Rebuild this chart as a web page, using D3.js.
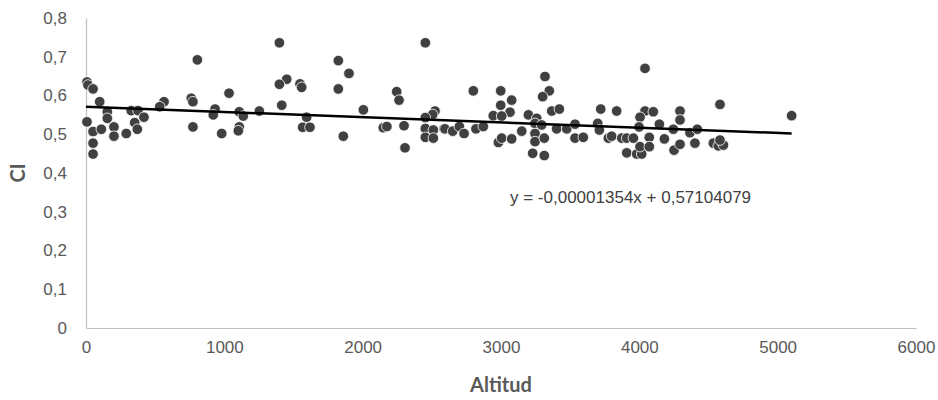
<!DOCTYPE html>
<html>
<head>
<meta charset="utf-8">
<script src="https://cdn.jsdelivr.net/npm/d3@7"></script>
<style>
  body { margin: 0; background: #fff; }
  svg { display: block; }
</style>
</head>
<body>
<svg id="chart" width="938" height="400"></svg>
<script>
// altitude (m) of each sample
const altitud = [
  7, 14, 51, 99, 7, 51, 51, 51, 111, 154, 154, 202, 202, 291, 327, 352, 371, 376, 419, 564,
  533, 805, 761, 773, 773, 1034, 933, 920, 981, 1108, 1137, 1108, 1101, 1253, 1398, 1451, 1398, 1547, 1559, 1415,
  1595, 1566, 1619, 1824, 1901, 1824, 2005, 1860, 2246, 2263, 2149, 2175, 2299, 2306, 2453, 2523, 2506, 2453, 2453, 2511,
  2588, 2453, 2511, 2800, 2595, 2651, 2699, 2733, 2819, 2872, 2998, 3077, 2998, 3065, 2944, 3005, 2981, 3005, 3077, 3150,
  3198, 3258, 3246, 3294, 3246, 3246, 3313, 3229, 3313, 3318, 3349, 3301, 3367, 3422, 3402, 3475, 3535, 3535, 3595, 3721,
  3836, 3699, 3711, 3776, 3800, 3873, 3909, 3957, 3909, 3981, 4017, 4005, 4041, 4041, 4005, 4101, 3998, 4072, 4072, 4145,
  4181, 4246, 4294, 4294, 4251, 4294, 4366, 4419, 4402, 4583, 4535, 4571, 4608, 4583, 5101
];
// CI value of each sample
const ci = [
  0.635, 0.627, 0.617, 0.584, 0.532, 0.507, 0.477, 0.449, 0.513, 0.558, 0.541, 0.519, 0.495, 0.502, 0.561, 0.530, 0.513, 0.561, 0.544, 0.584,
  0.571, 0.692, 0.593, 0.584, 0.519, 0.606, 0.565, 0.550, 0.502, 0.558, 0.547, 0.519, 0.509, 0.560, 0.736, 0.642, 0.629, 0.630, 0.621, 0.575,
  0.544, 0.518, 0.518, 0.690, 0.657, 0.617, 0.563, 0.495, 0.610, 0.588, 0.517, 0.520, 0.522, 0.465, 0.736, 0.560, 0.551, 0.543, 0.515, 0.511,
  0.514, 0.492, 0.490, 0.612, 0.514, 0.508, 0.520, 0.502, 0.514, 0.520, 0.612, 0.588, 0.575, 0.557, 0.548, 0.547, 0.479, 0.490, 0.488, 0.508,
  0.550, 0.541, 0.528, 0.524, 0.502, 0.481, 0.490, 0.451, 0.445, 0.649, 0.612, 0.597, 0.560, 0.565, 0.514, 0.514, 0.526, 0.490, 0.492, 0.565,
  0.560, 0.528, 0.511, 0.490, 0.495, 0.490, 0.490, 0.490, 0.452, 0.449, 0.449, 0.468, 0.670, 0.560, 0.544, 0.558, 0.519, 0.492, 0.468, 0.526,
  0.488, 0.513, 0.560, 0.537, 0.459, 0.474, 0.504, 0.513, 0.477, 0.577, 0.477, 0.470, 0.472, 0.485, 0.548
];

const xTicks = [0, 1000, 2000, 3000, 4000, 5000, 6000];
const yTicks = [0, 0.1, 0.2, 0.3, 0.4, 0.5, 0.6, 0.7, 0.8];

// linear trend
const slope = -0.00001354;
const intercept = 0.57104079;
const trendRange = [0, 5101];
const trendLabel = 'y = -0,00001354x + 0,57104079';

const width = 938, height = 400;
const margin = { top: 18, right: 22, bottom: 72, left: 86 };
const svg = d3.select('#chart');

const x = d3.scaleLinear().domain([0, 6000]).range([margin.left, width - margin.right]);
const y = d3.scaleLinear().domain([0, 0.8]).range([height - margin.bottom, margin.top]);

const fmtY = d => d3.format('.1f')(d).replace('.', ',').replace(/^0,0$/, '0');
const tickFont = '"Liberation Sans", Arial, sans-serif';

// y axis
const yAxis = svg.append('g')
  .attr('transform', `translate(${margin.left},0)`)
  .call(d3.axisLeft(y).tickValues(yTicks).tickSize(0).tickPadding(19).tickFormat(fmtY));
yAxis.select('.domain').attr('stroke', '#bfbfbf').attr('stroke-width', 1.2);
yAxis.selectAll('text')
  .attr('font-family', tickFont)
  .attr('font-size', 17)
  .attr('fill', '#595959');

// x axis
const xAxis = svg.append('g')
  .attr('transform', `translate(0,${height - margin.bottom})`)
  .call(d3.axisBottom(x).tickValues(xTicks).tickSize(0).tickPadding(13).tickFormat(d3.format('d')));
xAxis.select('.domain').attr('stroke', '#bfbfbf').attr('stroke-width', 1.2);
xAxis.selectAll('text')
  .attr('font-family', tickFont)
  .attr('font-size', 17)
  .attr('fill', '#595959');

// axis titles
svg.append('text')
  .attr('x', (margin.left + width - margin.right) / 2)
  .attr('y', 392)
  .attr('text-anchor', 'middle')
  .attr('font-family', 'Lato, "Open Sans", sans-serif')
  .attr('font-weight', 'bold')
  .attr('font-size', 20)
  .attr('fill', '#595959')
  .text('Altitud');

svg.append('text')
  .attr('transform', `translate(25,${(margin.top + height - margin.bottom) / 2}) rotate(-90)`)
  .attr('text-anchor', 'middle')
  .attr('font-family', 'Lato, "Open Sans", sans-serif')
  .attr('font-weight', 'bold')
  .attr('font-size', 20)
  .attr('fill', '#595959')
  .text('CI');

// points
const points = altitud.map((a, i) => ({ a, c: ci[i] }));
svg.append('g')
  .selectAll('circle')
  .data(points)
  .join('circle')
  .attr('cx', d => x(d.a))
  .attr('cy', d => y(d.c))
  .attr('r', 5.3)
  .attr('fill', '#404040')
  .attr('stroke', '#ffffff')
  .attr('stroke-width', 0.8);

// trend line
svg.append('line')
  .attr('x1', x(trendRange[0]))
  .attr('y1', y(slope * trendRange[0] + intercept))
  .attr('x2', x(trendRange[1]))
  .attr('y2', y(slope * trendRange[1] + intercept))
  .attr('stroke', '#000')
  .attr('stroke-width', 2.5);

svg.append('text')
  .attr('x', 510)
  .attr('y', 203)
  .attr('font-family', tickFont)
  .attr('font-size', 17)
  .attr('fill', '#404040')
  .text(trendLabel);
</script>
</body>
</html>
